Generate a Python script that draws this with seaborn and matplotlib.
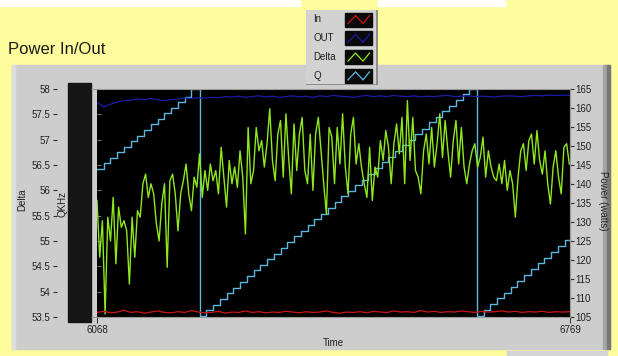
import numpy as np
import matplotlib
matplotlib.use("Agg")
import matplotlib.pyplot as plt
import seaborn as sns
from matplotlib.patches import Rectangle
from matplotlib.ticker import FuncFormatter

# figure size in pixels
W, H = 618, 356

# time axis (samples)
t_start, t_end = 6068, 6769

# Delta, read every 4 time units from t_start
delta_step = 4
delta = [
    55.80, 54.68, 55.40, 53.56, 55.47, 55.00, 55.86, 54.55, 55.67, 55.27,
    55.40, 55.20, 54.15, 55.47, 54.68, 55.60, 55.47, 56.13, 56.32, 55.86,
    56.13, 55.93, 55.34, 55.00, 55.73, 56.13, 54.48, 56.19, 56.32, 55.93,
    55.20, 55.93, 56.19, 56.52, 55.93, 55.60, 56.26, 56.06, 56.72, 55.86,
    56.39, 56.00, 56.52, 56.19, 56.39, 55.93, 56.85, 56.26, 55.67, 56.59,
    56.13, 56.46, 56.06, 56.78, 56.26, 55.14, 57.24, 56.13,
    56.39, 57.24, 56.78, 56.98, 56.46, 56.92, 57.61, 56.59, 56.19, 57.11,
    57.38, 56.26, 57.51, 56.65, 55.93, 57.31, 56.39, 57.11, 57.44, 56.39,
    56.13, 57.11, 56.00, 57.11, 57.44, 56.78, 56.13, 55.53, 57.24, 57.05,
    56.13, 57.24, 56.52, 57.51, 56.46, 55.93, 57.11, 57.44, 56.52, 56.92,
    56.46, 56.13, 55.86, 56.85, 55.80, 56.46, 56.26, 56.98, 56.59, 57.18,
    56.85, 56.13, 56.92, 57.31, 56.72, 57.44, 56.13, 57.77,
    56.59, 57.44, 56.39, 56.26, 55.93, 56.78, 57.11, 56.52, 57.24, 56.46,
    56.92, 57.51, 56.65, 57.38, 56.78, 56.26, 56.98, 57.38, 56.52, 57.24,
    56.46, 56.13, 56.52, 56.78, 56.92, 56.46, 56.65, 57.05, 56.26, 56.78,
    56.46, 56.26, 56.19, 56.52, 56.13, 56.59, 56.00, 56.39, 56.13, 55.47,
    56.26, 56.78, 56.92, 56.39, 56.98, 57.11, 56.52, 57.18, 56.59, 56.32,
    56.78, 56.13, 55.73, 56.46, 56.78, 56.26, 55.93, 56.85, 56.92, 56.52,
]

# power in / out (watts), read every 10 time units
power_step = 10
power_in = [
    106.2, 106.5, 106.1, 106.3, 106.8, 106.2, 106.4, 106.0, 106.3, 106.6,
    106.2, 106.1, 106.4, 106.2, 106.7, 106.3, 106.1, 106.2, 106.5, 106.0,
    106.3, 106.2, 106.6, 106.2, 106.4, 106.1, 106.3, 106.2, 106.5, 106.3,
    106.1, 106.4, 106.2, 106.3, 106.6, 106.2, 106.0, 106.3, 106.2, 106.4,
    106.1, 106.5, 106.3, 106.2, 106.6, 106.3, 106.4, 106.2, 106.7, 106.3,
    106.5, 106.2, 106.4, 106.3, 106.6, 106.4, 106.2, 106.5, 106.3, 106.4,
    106.6, 106.3, 106.5, 106.2, 106.4, 106.3, 106.5, 106.2, 106.4, 106.3,
    106.4,
]
power_out = [
    161.5, 160.3, 161.0, 161.6, 161.9, 162.1, 162.4, 162.2, 162.5, 162.2,
    161.9, 162.2, 162.4, 162.6, 162.5, 162.7, 162.6, 162.8, 162.7, 163.0,
    162.9, 163.1, 162.8, 163.0, 163.2, 162.9, 163.1, 162.8, 163.0, 163.2,
    162.9, 163.1, 162.8, 163.2, 163.0, 163.3, 163.1, 163.0, 162.8, 163.1,
    163.3, 163.0, 163.2, 163.0, 163.3, 163.1, 163.0, 163.2, 162.9, 163.1,
    163.0, 163.2, 163.3, 163.0, 163.1, 163.2, 163.0, 163.1, 163.0, 162.9,
    163.1, 163.2, 163.1, 163.0, 163.2, 163.3, 163.2, 163.4, 163.3, 163.4,
    163.3,
]

# Q staircase: step start times and levels (drawn on the Delta scale)
q_time = (list(range(6068, 6209, 10)) + list(range(6220, 6621, 10))
          + list(range(6631, 6762, 10)) + [6769])
q_khz = [
    56.42, 56.53, 56.64, 56.75, 56.86, 56.97, 57.08, 57.19, 57.30, 57.41,
    57.52, 57.63, 57.74, 57.85, 58.00,
    53.52, 53.63, 53.74, 53.86, 53.97, 54.08, 54.19, 54.31, 54.42, 54.53,
    54.64, 54.75, 54.87, 54.98, 55.09, 55.20, 55.32, 55.43, 55.54, 55.65,
    55.76, 55.88, 55.99, 56.10, 56.21, 56.33, 56.44, 56.55, 56.66, 56.77,
    56.89, 57.00, 57.11, 57.22, 57.34, 57.45, 57.56, 57.67, 57.78, 57.90,
    58.00,
    53.52, 53.64, 53.75, 53.87, 53.98, 54.10, 54.21, 54.33, 54.44, 54.56,
    54.67, 54.79, 54.91, 55.02, 55.02,
]

series_names = ["In", "OUT", "Delta", "Q"]
series_colors = ["#cc1616", "#1c1ca8", "#8fe81e", "#5cb6de"]

plt.rcParams['font.family'] = ['Liberation Sans', 'DejaVu Sans']


def box(x0, y0, x1, y1):
    # pixel box (top-left origin) -> figure fraction [l, b, w, h]
    return [x0 / W, 1 - y1 / H, (x1 - x0) / W, (y1 - y0) / H]


def rect(x0, y0, x1, y1, color):
    l, b, w, h = box(x0, y0, x1, y1)
    fig.patches.append(Rectangle((l, b), w, h, transform=fig.transFigure,
                                 color=color, zorder=-10))


fig = plt.figure(figsize=(W / 100, H / 100), dpi=100, facecolor="#fdfd9e")

# window decorations
rect(0, 0, 300, 6, "white")
rect(378, 0, 505, 6, "white")
rect(12, 65, 610, 349, "#cdcdcd")
rect(12, 65, 15, 349, "#dedede")
rect(603, 65, 607, 349, "#a4a4a4")
rect(607, 65, 610, 349, "#787878")
rect(507, 351, 607, 356, "#d4d4d4")
rect(68, 83, 91, 322, "#151515")

ax = fig.add_axes(box(97, 89, 570, 317))
ax.set_facecolor("black")
ax2 = ax.twinx()

delta_time = t_start + delta_step * np.arange(len(delta))
power_time = t_start + power_step * np.arange(len(power_in))

sns.lineplot(x=q_time, y=q_khz, ax=ax, color=series_colors[3], lw=1.0,
             drawstyle="steps-post")
sns.lineplot(x=delta_time, y=delta, ax=ax, color=series_colors[2], lw=1.0)
sns.lineplot(x=power_time, y=power_in, ax=ax2, color=series_colors[0], lw=0.9)
sns.lineplot(x=power_time, y=power_out, ax=ax2, color=series_colors[1], lw=0.9)

ax.set_xlim(t_start, t_end)
ax.set_ylim(53.5, 58)
ax2.set_ylim(105, 165)
ax.set_xlabel("")
ax.set_ylabel("")
ax2.set_ylabel("")

tick_col = "#303030"
ax.set_xticks([t_start, t_end])
ax.tick_params(axis="x", direction="out", length=4, width=0.7, color=tick_col,
               labelsize=7, pad=2, labelcolor="#202020")

ax.set_yticks(np.arange(53.5, 58.01, 0.5))
ax.yaxis.set_major_formatter(FuncFormatter(lambda v, p: f"{v:g}"))
ax.spines["left"].set_position(("outward", 40 * 0.72))
ax.spines["left"].set_visible(False)
ax.tick_params(axis="y", direction="out", length=3, width=0.8, color=tick_col,
               labelsize=7, pad=1.5, labelcolor="#202020")

ax2.set_yticks(np.arange(105, 165.1, 5))
ax2.tick_params(axis="y", direction="out", length=3, width=0.8, color=tick_col,
                labelsize=7, pad=0.5, labelcolor="#202020")

for side in ["top", "bottom", "right"]:
    ax.spines[side].set_color("#9a9a9a")
    ax.spines[side].set_linewidth(0.8)
for side in ["top", "bottom", "left"]:
    ax2.spines[side].set_visible(False)
ax2.spines["right"].set_color("#9a9a9a")
ax2.spines["right"].set_linewidth(0.8)

# small inner ticks along the plot's left edge
inner = ax.secondary_yaxis(0.0)
inner.set_yticks(np.arange(53.5, 58.01, 0.5))
inner.tick_params(direction="in", length=3, color="#707070", labelleft=False)
inner.spines["left"].set_visible(False)
ends = ax.secondary_yaxis(0.0)
ends.set_yticks([53.5, 58])
ends.tick_params(direction="out", length=4, color="#9a9a9a", labelleft=False)
ends.spines["left"].set_visible(False)

# labels
fig.text(8 / W, 1 - 49 / H, "Power In/Out", fontsize=12, ha="left",
         va="center", color="#1a1a1a")
fig.text(22 / W, 1 - 200 / H, "Delta", fontsize=7, rotation=90,
         ha="center", va="center", color="#202020")
fig.text(63 / W, 1 - 204 / H, "QKHz", fontsize=7, rotation=90,
         ha="center", va="center", color="#202020")
fig.text(603 / W, 1 - 201 / H, "Power (watts)", fontsize=7, rotation=270,
         ha="center", va="center", color="#202020")
fig.text(333 / W, 1 - 343 / H, "Time", fontsize=7, ha="center",
         va="center", color="#202020")

# legend box
leg = fig.add_axes(box(306, 10, 378, 85))
leg.set_xlim(0, 72)
leg.set_ylim(75, 0)
leg.axis("off")
leg.add_patch(Rectangle((0, 0), 72, 75, color="#d2d2d2"))
leg.plot([71.5, 71.5], [0, 75], color="#808080", lw=1.2)
leg.plot([0, 72], [74.5, 74.5], color="#808080", lw=1.2)
for i, (name, col) in enumerate(zip(series_names, series_colors)):
    yc = 9.5 + 18.8 * i
    leg.text(7, yc, name, fontsize=7, ha="left", va="center",
             color="#202020")
    leg.add_patch(Rectangle((39, yc - 7), 27, 14, color="#0a0a0a"))
    leg.plot([42, 49.5, 57, 63.5], [yc + 4, yc - 4, yc + 4, yc - 4],
             color=col, lw=0.9)

fig.savefig("out.png", dpi=100, facecolor=fig.get_facecolor())
